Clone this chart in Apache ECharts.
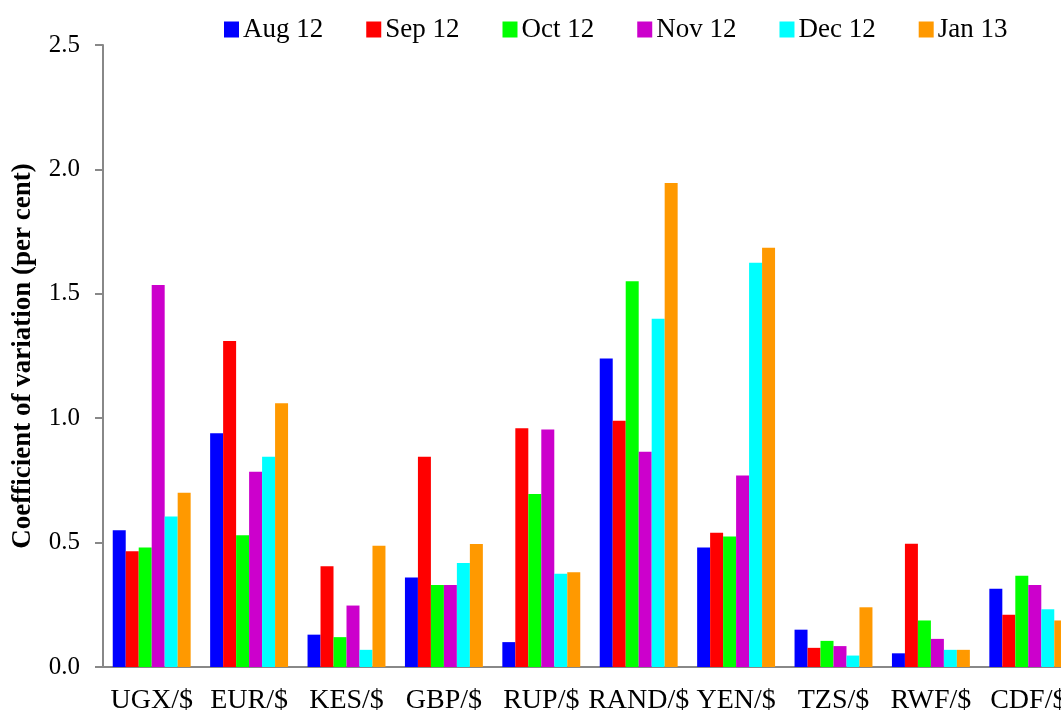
<!DOCTYPE html>
<html>
<head>
<meta charset="utf-8">
<script src="https://cdn.jsdelivr.net/npm/echarts@6/dist/echarts.min.js"></script>
<style>html,body{margin:0;padding:0;background:#fff;overflow:hidden;width:1061px;height:715px}#c{width:1081px;height:715px}</style>
</head>
<body>
<div id="c"></div>
<script>
const categories = ["UGX/$","EUR/$","KES/$","GBP/$","RUP/$","RAND/$","YEN/$","TZS/$","RWF/$","CDF/$"];
const seriesNames = ["Aug 12","Sep 12","Oct 12","Nov 12","Dec 12","Jan 13"];
const aug12 = [0.55,0.94,0.13,0.36,0.10,1.24,0.48,0.15,0.055,0.315];
const sep12 = [0.465,1.31,0.405,0.845,0.96,0.99,0.54,0.077,0.495,0.21];
const oct12 = [0.48,0.53,0.12,0.33,0.695,1.55,0.525,0.105,0.187,0.367];
const nov12 = [1.535,0.785,0.247,0.33,0.955,0.865,0.77,0.084,0.113,0.33];
const dec12 = [0.605,0.845,0.069,0.418,0.375,1.40,1.625,0.046,0.069,0.232];
const jan13 = [0.70,1.06,0.487,0.494,0.381,1.945,1.685,0.24,0.069,0.187];
const yTicks = ["0.0","0.5","1.0","1.5","2.0","2.5"];
const colors = ["#0000FF","#FF0000","#00FF00","#CC00CC","#00FFFF","#FF9900"];
const values = [aug12,sep12,oct12,nov12,dec12,jan13];

const font = "Liberation Serif";
const chart = echarts.init(document.getElementById('c'));
chart.setOption({
  animation:false,
  color: colors,
  textStyle:{fontFamily:font},
  legend:{
    left:224, top:16, padding:0, itemWidth:15, itemHeight:16, itemGap:43,
    icon:'rect',
    textStyle:{fontFamily:font,fontSize:27,color:'#000',padding:[0,0,0,-1]},
    data: seriesNames
  },
  grid:{left:103, top:45, bottom:47.5, right:4, containLabel:false},
  xAxis:{
    type:'category', data:categories,
    axisLine:{lineStyle:{color:'#888',width:2}},
    axisTick:{length:7,lineStyle:{color:'#888',width:2}},
    axisLabel:{color:'#000',fontFamily:font,fontSize:28,margin:20,interval:0}
  },
  yAxis:{
    type:'value', min:0, max:2.5, interval:0.5,
    name:'Coefficient of variation (per cent)',
    nameLocation:'middle', nameGap:66, nameRotate:90,
    nameTextStyle:{color:'#000',fontFamily:font,fontSize:27,fontWeight:'bold'},
    axisLine:{show:true,lineStyle:{color:'#888',width:2}},
    axisTick:{show:true,length:8,lineStyle:{color:'#888',width:2}},
    splitLine:{show:false},
    axisLabel:{color:'#000',fontFamily:font,fontSize:25,margin:23,
      formatter:(v)=>yTicks[Math.round(v/0.5)]}
  },
  series: seriesNames.map((n,i)=>({
    name:n, type:'bar', data:values[i], barGap:'0%', barCategoryGap:'20%',
    itemStyle:{color:colors[i]}
  }))
});
</script>
</body>
</html>
